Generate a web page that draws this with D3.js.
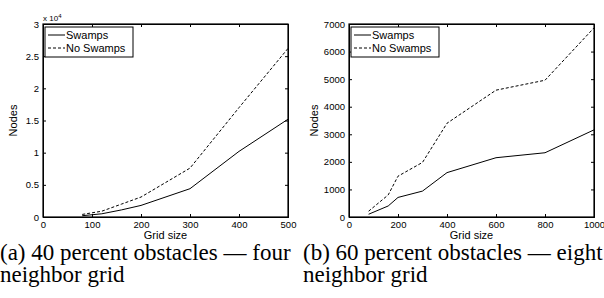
<!DOCTYPE html>
<html>
<head>
<meta charset="utf-8">
<script src="https://cdn.jsdelivr.net/npm/d3@7"></script>
</head>
<body style="margin:0; background:#fff">
<div id="root"></div>
<script>
// panel (a): 40 percent obstacles, four neighbor grid (values x 10^4)
const gridA = [80, 120, 160, 200, 300, 400, 500];
const swampsA = [0.02, 0.05, 0.11, 0.18, 0.44, 1.02, 1.52];
const noSwampsA = [0.04, 0.09, 0.20, 0.31, 0.76, 1.70, 2.62];
const xTicksA = [0, 100, 200, 300, 400, 500];
const yTicksA = [0, 0.5, 1, 1.5, 2, 2.5, 3];

// panel (b): 60 percent obstacles, eight neighbor grid
const gridB = [80, 160, 200, 300, 400, 600, 800, 1000];
const swampsB = [100, 400, 710, 940, 1610, 2150, 2330, 3160];
const noSwampsB = [210, 800, 1480, 1980, 3400, 4600, 4960, 6860];
const xTicksB = [0, 200, 400, 600, 800, 1000];
const yTicksB = [0, 1000, 2000, 3000, 4000, 5000, 6000, 7000];

const legendNames = ["Swamps", "No Swamps"];
const captions = [
  ["(a) 40 percent obstacles \u2014 four", "neighbor grid"],
  ["(b) 60 percent obstacles \u2014 eight", "neighbor grid"]
];

const sansFont = "'Liberation Sans'";
const serifFont = "'Liberation Serif'";

const svg = d3.select("#root")
  .append("svg")
  .attr("width", 604)
  .attr("height", 298);

function panel(left, xs, s1, s2, xTicks, yTicks, xMax, yMax, dash, exponent) {
  const top = 24, w = 245, h = 193;
  const x = d3.scaleLinear().domain([0, xMax]).range([0, w]);
  const y = d3.scaleLinear().domain([0, yMax]).range([h, 0]);

  const g = svg.append("g")
    .attr("transform", "translate(" + left + "," + top + ")");

  // ticks on all four sides, pointing inward
  g.append("g")
    .attr("transform", "translate(0," + h + ")")
    .call(d3.axisBottom(x).tickValues(xTicks).tickSize(-3).tickPadding(4).tickFormat(d3.format("d")));
  g.append("g")
    .call(d3.axisTop(x).tickValues(xTicks).tickSize(-3).tickFormat(""));
  g.append("g")
    .call(d3.axisLeft(y).tickValues(yTicks).tickSize(-3).tickPadding(4).tickFormat(d => d));
  g.append("g")
    .attr("transform", "translate(" + w + ",0)")
    .call(d3.axisRight(y).tickValues(yTicks).tickSize(-3).tickFormat(""));
  g.selectAll(".domain").attr("stroke", "#000");
  g.selectAll(".tick line").attr("stroke", "#000");
  g.selectAll(".tick text")
    .attr("fill", "#000")
    .style("font-family", sansFont)
    .style("font-size", "9.5px");

  g.append("rect")
    .attr("width", w).attr("height", h)
    .attr("fill", "none").attr("stroke", "#000").attr("stroke-width", 1.2);

  const line = d3.line()
    .x((d, i) => x(xs[i]))
    .y(d => y(d));

  g.append("path")
    .datum(s1)
    .attr("d", line)
    .attr("fill", "none").attr("stroke", "#000").attr("stroke-width", 1);
  g.append("path")
    .datum(s2)
    .attr("d", line)
    .attr("fill", "none").attr("stroke", "#000").attr("stroke-width", 1)
    .attr("stroke-dasharray", dash);

  // legend
  const lg = g.append("g").attr("transform", "translate(2,3)");
  lg.append("rect")
    .attr("width", 88).attr("height", 30)
    .attr("fill", "#fff").attr("stroke", "#000").attr("stroke-width", 1);
  legendNames.forEach(function(name, i) {
    lg.append("line")
      .attr("x1", 3).attr("x2", 20)
      .attr("y1", 8 + i * 13).attr("y2", 8 + i * 13)
      .attr("stroke", "#000").attr("stroke-width", 1)
      .attr("stroke-dasharray", i ? dash : null);
    lg.append("text")
      .style("font-family", sansFont).style("font-size", "11px")
      .attr("x", 21).attr("y", 12 + i * 13)
      .text(name);
  });

  g.append("text")
    .style("font-family", sansFont).style("font-size", "11px")
    .attr("x", w / 2).attr("y", h + 22)
    .attr("text-anchor", "middle")
    .text("Grid size");

  g.append("text")
    .style("font-family", sansFont).style("font-size", "11px")
    .attr("transform", "translate(" + (exponent ? -26 : -31) + "," + (h / 2) + ") rotate(-90)")
    .attr("text-anchor", "middle")
    .text("Nodes");

  if (exponent) {
    const ex = g.append("text")
      .attr("x", 0).attr("y", -3)
      .style("font-family", sansFont)
      .style("font-size", "8px");
    ex.append("tspan").text("x 10");
    ex.append("tspan").attr("dy", -3).style("font-size", "6px").text(exponent);
  }
}

panel(43, gridA, swampsA, noSwampsA, xTicksA, yTicksA, 500, 3, "3,2", "4");
panel(349, gridB, swampsB, noSwampsB, xTicksB, yTicksB, 1000, 7000, "3,2", null);

// sub-figure captions
captions.forEach(function(lines, k) {
  lines.forEach(function(t, i) {
    svg.append("text")
      .attr("x", k ? 303 : 0)
      .attr("y", 260 + i * 22)
      .style("font-family", serifFont)
      .style("font-size", "23px")
      .text(t);
  });
});
</script>
</body>
</html>
